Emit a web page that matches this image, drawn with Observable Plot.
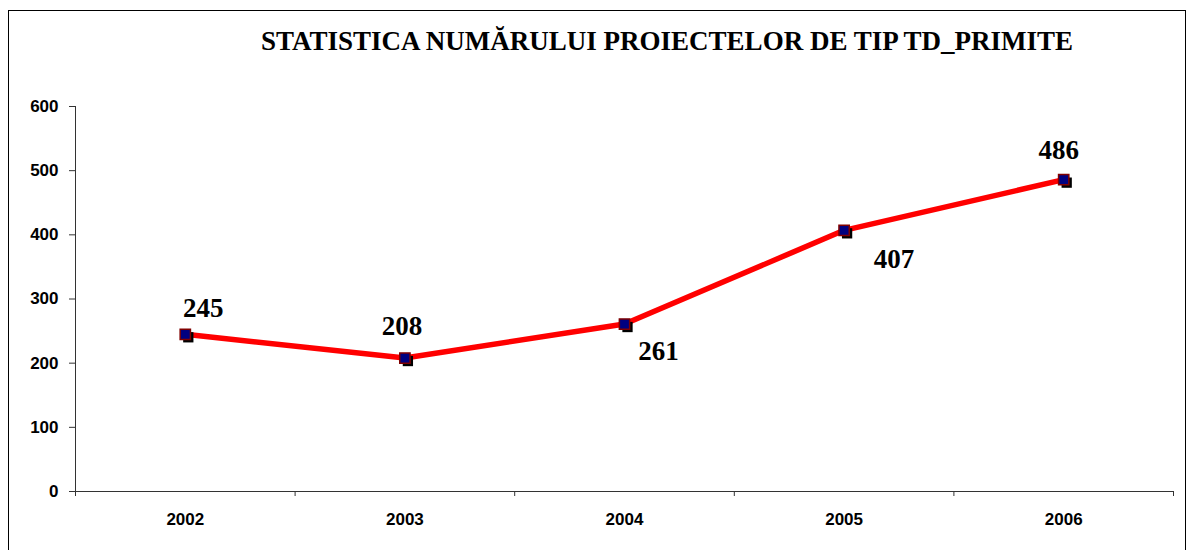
<!DOCTYPE html>
<html>
<head>
<meta charset="utf-8">
<script src="https://cdn.jsdelivr.net/npm/d3@7"></script>
<script src="https://cdn.jsdelivr.net/npm/@observablehq/plot@0.6"></script>
<style>
  html, body { margin: 0; padding: 0; background: #fff; overflow: hidden; }
  #frame {
    margin: 10px 0 0 8px;
    width: 1176px;
    height: 539px;
    border: 1px solid #000;
    border-bottom: none;
    overflow: hidden;
  }
  #title {
    height: 74px;
    box-sizing: border-box;
    padding: 17px 0 0 140px;
    text-align: center;
    font-family: "Liberation Serif", "Times New Roman", serif;
    font-weight: bold;
    font-size: 27px;
    line-height: 27px;
    color: #000;
    white-space: nowrap;
  }
  #chart svg { display: block; }
</style>
</head>
<body>
<div id="frame">
  <div id="title"></div>
  <div id="chart"></div>
</div>
<script>
const titleText = "STATISTICA NUMĂRULUI PROIECTELOR DE TIP TD_PRIMITE";
const years = ["2002", "2003", "2004", "2005", "2006"];
const values = [245, 208, 261, 407, 486];
const yTicks = [0, 100, 200, 300, 400, 500, 600];

// label placement (layout only)
const labelDx = [18, -3, 34, 50, -5];
const labelDy = [-17, -23, 36, 38, -21];

document.getElementById("title").textContent = titleText;

const data = years.map((y, i) => ({year: y, pos: i + 0.5, value: values[i]}));

const labelMarks = data.map((d, i) =>
  Plot.text([d], {
    x: "pos", y: "value", text: dd => String(dd.value),
    dx: labelDx[i], dy: labelDy[i],
    lineAnchor: "bottom", textAnchor: "middle",
    fontFamily: "'Liberation Serif', 'Times New Roman', serif",
    fontWeight: "bold", fontSize: 27, fill: "#000"
  })
);

const chart = Plot.plot({
  width: 1176,
  height: 465,
  marginLeft: 66,
  marginRight: 12,
  marginTop: 21,
  marginBottom: 59,
  x: {domain: [0, years.length], axis: null, label: null},
  y: {domain: [0, 600], axis: null, label: null},
  style: {
    fontFamily: "'Liberation Sans', Arial, sans-serif",
    fontWeight: "bold",
    fontSize: "17px",
    color: "#000",
    background: "transparent",
    overflow: "visible"
  },
  marks: [
    Plot.axisY(yTicks, {tickSize: 6, tickPadding: 11, fontSize: 17, fontWeight: "bold", label: null, stroke: "#333"}),
    Plot.axisX(d3.range(years.length + 1), {tickSize: 5, tickFormat: () => "", label: null, stroke: "#333"}),
    Plot.axisX(data.map(d => d.pos), {tickSize: 0, tickPadding: 21, fontSize: 17, fontWeight: "bold",
      tickFormat: p => years[Math.floor(p)], label: null}),
    Plot.ruleX([0], {stroke: "#333"}),
    Plot.ruleY([0], {stroke: "#333"}),
    Plot.line(data, {x: "pos", y: "value", stroke: "#ff0000", strokeWidth: 5.5}),
    Plot.dot(data, {x: "pos", y: "value", symbol: "square", r: 5.8, fill: "#000", dx: 3, dy: 3}),
    Plot.dot(data, {x: "pos", y: "value", symbol: "square", r: 5.8, fill: "#000080", stroke: "#800000", strokeWidth: 1.5}),
    ...labelMarks
  ]
});

document.getElementById("chart").appendChild(chart);
</script>
</body>
</html>
